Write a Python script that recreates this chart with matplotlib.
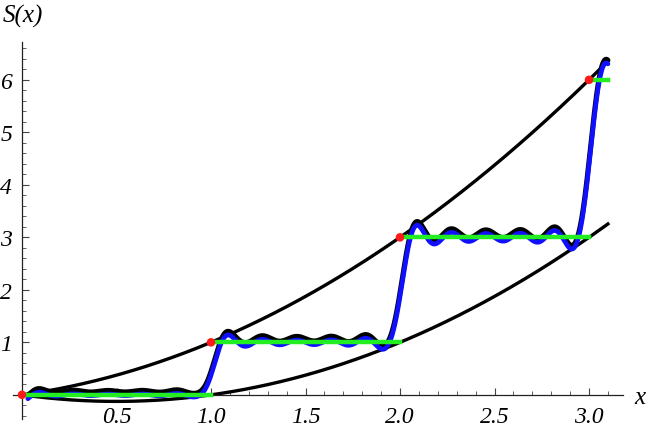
import numpy as np
import matplotlib
matplotlib.use("Agg")
import matplotlib.pyplot as plt
from matplotlib.ticker import MultipleLocator, FixedLocator

# ---- data ----
step_x = [0, 1, 2, 3]          # jump locations
step_vals = [0, 1, 3, 6]       # S at each step (triangular numbers)
step_ends = [1, 2, 3, 3.1]     # right end of each green segment
x_max = 3.1
n_harmonics = 5                # harmonics in partial Fourier sum
black_offset = 0.07
x_ticks = [0.5, 1.0, 1.5, 2.0, 2.5, 3.0]
x_tick_labels = ["0.5", "1.0", "1.5", "2.0", "2.5", "3.0"]
y_ticks = [1, 2, 3, 4, 5, 6]
y_tick_labels = ["1", "2", "3", "4", "5", "6"]

x = np.linspace(0, x_max, 2000)
# partial Fourier sum of floor(x)
f = x - 0.5 + sum(np.sin(2 * np.pi * k * x) / (np.pi * k) for k in range(1, n_harmonics + 1))
S_approx = f * (f + 1) / 2
upper = x * (x + 1) / 2
lower = x * (x - 1) / 2
mask = x >= 0.03

fig = plt.figure(figsize=(6.54, 4.35), dpi=100)
x_lo, x_hi = -0.05, 3.18
y_lo, y_hi = -0.46, 6.72
px_per_x = 189.0
px_per_y = 52.5
left_px = 22 + x_lo * px_per_x
ax = fig.add_axes([left_px / 654, (435 - 420) / 435,
                   (x_hi - x_lo) * px_per_x / 654, (y_hi - y_lo) * px_per_y / 435])
ax.set_xlim(x_lo, x_hi)
ax.set_ylim(y_lo, y_hi)

ax.plot(x, upper, color="black", lw=2.4, zorder=2)
ax.plot(x, lower, color="black", lw=2.4, zorder=2)
ax.plot(x[mask], S_approx[mask] + black_offset, color="black", lw=3.6, zorder=3, solid_capstyle="round")
ax.plot(x[mask], S_approx[mask], color="#1010ff", lw=3.4, zorder=4, solid_capstyle="round")
for xs, xe, v in zip(step_x, step_ends, step_vals):
    ax.plot([xs, xe], [v, v], color="#22ee22", lw=3.2, zorder=5)
ax.scatter(step_x, step_vals, s=38, color="#ff1a1a", zorder=6, edgecolors="none")

for s in ["top", "right"]:
    ax.spines[s].set_visible(False)
ax.spines["left"].set_position(("data", 0))
ax.spines["bottom"].set_position(("data", 0))
for s in ["left", "bottom"]:
    ax.spines[s].set_linewidth(0.9)
    ax.spines[s].set_color("#222222")

serif = "Liberation Serif"
ax.xaxis.set_major_locator(FixedLocator(x_ticks))
ax.xaxis.set_minor_locator(MultipleLocator(0.1))
ax.yaxis.set_major_locator(FixedLocator(y_ticks))
ax.yaxis.set_minor_locator(MultipleLocator(0.2))
ax.set_xticklabels(x_tick_labels, fontfamily=serif, fontstyle="italic", fontsize=17)
ax.set_yticklabels(y_tick_labels, fontfamily=serif, fontstyle="italic", fontsize=17)
ax.tick_params(which="major", direction="in", length=5, width=0.8, color="#444444")
ax.tick_params(which="minor", direction="in", length=3, width=0.6, color="#444444")
ax.tick_params(axis="x", pad=8)
ax.tick_params(axis="y", pad=7)

fig.text(640 / 654, 1 - 398 / 435, "x", fontfamily=serif, fontstyle="italic",
         fontsize=18, ha="center", va="center")
fig.text(3 / 654, 1 - 16 / 435, "S(x)", fontfamily=serif, fontstyle="italic",
         fontsize=18, ha="left", va="center")

fig.savefig("out.png", dpi=100)
